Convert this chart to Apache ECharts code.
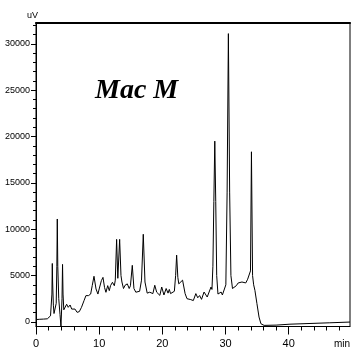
<!DOCTYPE html>
<html>
<head>
<meta charset="utf-8">
<script src="https://cdn.jsdelivr.net/npm/echarts@6/dist/echarts.min.js"></script>
<style>
  html, body { margin: 0; padding: 0; background: #fff; }
  #chart { width: 351px; height: 350px; }
</style>
</head>
<body>
<div id="chart"></div>
<script>
// retention time (min) and detector signal (uV)
var times = [
  0, 0.6, 1.2, 1.8, 2.1, 2.3, 2.45, 2.52, 2.58, 2.63, 2.68, 2.75, 2.85, 3.05, 3.2, 3.3, 3.37, 3.45, 3.6, 3.8,
  3.95, 4.05, 4.12, 4.2, 4.28, 4.4, 4.6, 4.85, 5.1, 5.4, 5.65, 5.9, 6.17, 6.5, 6.85, 7.2, 7.6, 7.9, 8.1, 8.3,
  8.65, 8.9, 9.18, 9.5, 9.8, 10.0, 10.35, 10.6, 10.85, 11.07, 11.35, 11.6, 11.8, 12.1, 12.4, 12.55, 12.76, 12.95, 13.05, 13.24,
  13.45, 13.6, 13.85, 14.1, 14.45, 14.75, 14.95, 15.24, 15.5, 15.8, 16.1, 16.4, 16.7, 16.98, 17.25, 17.6, 18.0, 18.5, 18.8, 19.1,
  19.6, 19.9, 20.25, 20.6, 20.9, 21.1, 21.3, 21.57, 21.9, 22.1, 22.26, 22.45, 22.6, 22.9, 23.2, 23.6, 23.9, 24.2, 24.5, 24.9,
  25.3, 25.6, 25.9, 26.2, 26.6, 27.1, 27.4, 27.7, 27.85, 28.0, 28.15, 28.3, 28.45, 28.6, 28.8, 29.1, 29.3, 29.5, 29.8, 30.05,
  30.25, 30.45, 30.65, 30.85, 31.1, 31.4, 31.7, 32.0, 32.3, 32.6, 32.9, 33.2, 33.5, 33.8, 33.95, 34.1, 34.28, 34.45, 34.65, 34.97,
  35.3, 35.6, 36.1, 38.0, 40.2, 46.5, 49.7
];
var signal = [
  250, 280, 300, 330, 450, 650, 800, 3000, 6300, 4300, 4500, 1800, 900, 950, 2000, 6000, 11100, 6000, 2500, 800,
  -500, -500, 2500, 6200, 3000, 1300, 1400, 1900, 1570, 1820, 1380, 1210, 1380, 1030, 1100, 1570, 2290, 2830, 3000, 2830,
  3000, 3910, 4920, 3550, 3000, 3550, 4450, 4800, 3700, 3190, 3910, 3370, 3910, 4270, 3900, 4500, 8900, 4700, 4800, 8900,
  5000, 4300, 3600, 3950, 4100, 3600, 3900, 6100, 3600, 3200, 3400, 3300, 4500, 9450, 4300, 3100, 3200, 3050, 3950, 3200,
  2860, 3760, 2900, 3600, 3100, 3500, 3050, 3100, 3300, 5000, 7200, 4800, 4100, 4000, 4500, 3050, 2500, 2320, 2400, 2300,
  3050, 2600, 2840, 2430, 3220, 2680, 2510, 3760, 3500, 6000, 13000, 19500, 13000, 5000, 3000, 2860, 3220, 2900, 3000, 4000,
  14000, 31100, 14000, 5000, 3600, 3800, 3900, 4200, 4000, 4300, 4400, 4200, 4600, 4500, 5500, 18350, 5000, 4000, 3400, 1970,
  520, -200, -380, -350, -250, -100, -20
];

var xLabels = [0, 10, 20, 30, 40];
var xMinor = [2, 4, 6, 8, 12, 14, 16, 18, 22, 24, 26, 28, 32, 34, 36, 38, 42, 44, 46, 48];
var yLabels = [0, 5000, 10000, 15000, 20000, 25000, 30000];
var yMinor = [];
for (var v = 1000; v <= 32000; v += 1000) {
  if (v % 5000 !== 0) yMinor.push(v);
}

var data = times.map(function (t, i) { return [t, signal[i]]; });

var chartDom = document.getElementById('chart');
var myChart = echarts.init(chartDom, null, { renderer: 'canvas' });

var narrow = "'Liberation Sans Narrow', 'Arial Narrow', 'Liberation Sans', Arial, sans-serif";

option = {
  animation: false,
  backgroundColor: '#fff',
  grid: {
    left: 36,
    right: 1,
    top: 22.5,
    bottom: 23.5,
    show: true,
    borderColor: '#000',
    borderWidth: 1
  },
  xAxis: [
    {
      type: 'value',
      position: 'bottom',
      min: 0,
      max: 49.7,
      axisLine: { onZero: false, lineStyle: { color: '#000', width: 1 } },
      axisTick: { customValues: xLabels, length: 8, lineStyle: { color: '#000' } },
      axisLabel: {
        customValues: xLabels, margin: 12, color: '#000', fontSize: 11, fontFamily: narrow,
        formatter: function (val) { return String(val); }
      },
      splitLine: { show: false }
    },
    {
      type: 'value',
      position: 'bottom',
      min: 0,
      max: 49.7,
      axisLine: { show: false, onZero: false },
      axisTick: { customValues: xMinor, length: 4, lineStyle: { color: '#000' } },
      axisLabel: { show: false },
      splitLine: { show: false }
    },
    {
      // heavier top edge of the frame
      type: 'value',
      position: 'top',
      min: 0,
      max: 49.7,
      axisLine: { show: true, onZero: false, lineStyle: { color: '#000', width: 2 } },
      axisTick: { show: false },
      axisLabel: { show: false },
      splitLine: { show: false }
    }
  ],
  yAxis: [
    {
      type: 'value',
      position: 'left',
      min: -500,
      max: 32300,
      axisLine: { show: true, onZero: false, lineStyle: { color: '#000', width: 1 } },
      axisTick: { show: true, customValues: yLabels, length: 5, lineStyle: { color: '#000' } },
      axisLabel: {
        customValues: yLabels, margin: 6, color: '#000', fontSize: 9, fontFamily: narrow,
        formatter: function (val) { return String(val); }
      },
      splitLine: { show: false }
    },
    {
      type: 'value',
      position: 'left',
      min: -500,
      max: 32300,
      axisLine: { show: false, onZero: false },
      axisTick: { show: true, customValues: yMinor, length: 3, lineStyle: { color: '#000' } },
      axisLabel: { show: false },
      splitLine: { show: false }
    }
  ],
  title: {
    text: 'Mac M',
    left: 95,
    top: 77,
    padding: 0,
    textStyle: {
      fontFamily: "'Liberation Serif', 'Times New Roman', serif",
      fontStyle: 'italic',
      fontWeight: 'bold',
      fontSize: 28,
      color: '#000'
    }
  },
  graphic: [
    {
      type: 'text',
      left: 27,
      top: 11,
      style: { text: 'uV', fontSize: 9, fontFamily: narrow, fill: '#000' }
    },
    {
      type: 'text',
      right: 1,
      top: 339,
      style: { text: 'min', fontSize: 10, fontFamily: narrow, fill: '#000' }
    }
  ],
  series: [
    {
      name: 'Mac M',
      type: 'line',
      xAxisIndex: 0,
      yAxisIndex: 0,
      data: data,
      showSymbol: false,
      symbol: 'none',
      smooth: false,
      lineStyle: { color: '#000', width: 1 },
      silent: true
    }
  ]
};

myChart.setOption(option);
</script>
</body>
</html>
